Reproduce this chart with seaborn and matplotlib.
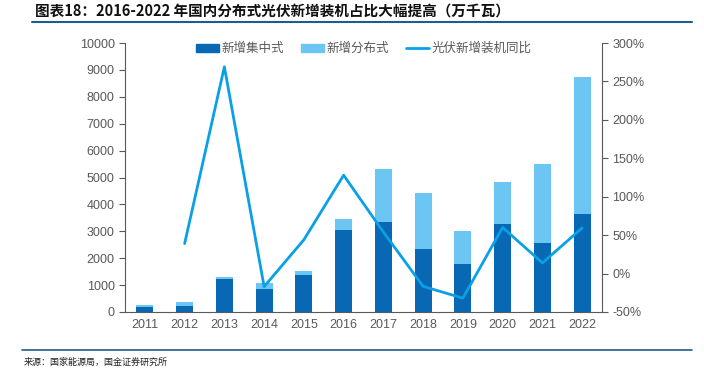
import numpy as np
import pandas as pd
import matplotlib
matplotlib.use("Agg")
import matplotlib.pyplot as plt
import seaborn as sns
from matplotlib.patches import Patch
from matplotlib.lines import Line2D

years = ["2011", "2012", "2013", "2014", "2015", "2016", "2017", "2018", "2019", "2020", "2021", "2022"]
central = [190, 235, 1212, 855, 1374, 3031, 3362, 2330, 1791, 3268, 2560, 3629]
distributed = [70, 125, 80, 205, 139, 424, 1944, 2096, 1220, 1552, 2928, 5111]
yoy = [np.nan, 39, 269, -17, 44, 128, 54, -16.6, -32, 60, 13.9, 59.3]

label_central = "新增集中式"
label_dist = "新增分布式"
label_line = "光伏新增装机同比"
title = "图表18：2016-2022 年国内分布式光伏新增装机占比大幅提高（万千瓦）"
source = "来源：国家能源局，国金证券研究所"

c_dark = "#0868B4"
c_light = "#6CC6F4"
c_line = "#0AA0E6"
gray = "#595959"

sns.set_theme(style="white")
plt.rcParams["font.family"] = ["Liberation Sans", "Noto Sans CJK SC", "DejaVu Sans"]

df = pd.DataFrame({"year": years, "central": central, "dist": distributed, "yoy": yoy})
df["total"] = df["central"] + df["dist"]

fig = plt.figure(figsize=(7.04, 3.70), dpi=100)
ax = fig.add_axes([125/704, 1-312/370, (602-125)/704, (312-43)/370])

sns.barplot(data=df, x="year", y="total", color=c_light, width=0.43, ax=ax, saturation=1, linewidth=0)
sns.barplot(data=df, x="year", y="central", color=c_dark, width=0.43, ax=ax, saturation=1, linewidth=0)
ax.set_xlim(-0.5, 11.5)
ax.set_ylim(0, 10000)
ax.set_yticks(np.arange(0, 10001, 1000))
ax.set_xlabel("")
ax.set_ylabel("")
ax.set_xticks(np.arange(-0.5, 12, 1), minor=False)
ax.set_xticklabels([])
ax.set_xticks(np.arange(12), minor=True)
ax.set_xticklabels(years, minor=True)
ax.tick_params(axis="x", which="major", direction="out", length=4, color=gray, width=0.8)
ax.tick_params(axis="x", which="minor", length=0, labelsize=9, labelcolor=gray, pad=5)
ax.tick_params(axis="y", direction="out", length=4, color=gray, width=0.8, labelsize=9, labelcolor=gray)
for s in ["top", "right"]:
    ax.spines[s].set_visible(False)
for s in ["left", "bottom"]:
    ax.spines[s].set_color(gray)
    ax.spines[s].set_linewidth(0.8)

ax2 = ax.twinx()
sns.lineplot(x=np.arange(12), y=df["yoy"], color=c_line, linewidth=2, ax=ax2)
ax2.set_ylim(-50, 300)
ax2.set_yticks(np.arange(-50, 301, 50))
ax2.set_yticklabels([f"{v}%" for v in range(-50, 301, 50)])
ax2.set_ylabel("")
ax2.tick_params(axis="y", direction="out", length=4, color=gray, width=0.8, labelsize=9, labelcolor=gray)
for s in ["top", "left", "bottom"]:
    ax2.spines[s].set_visible(False)
ax2.spines["right"].set_color(gray)
ax2.spines["right"].set_linewidth(0.8)
ax2.set_xlim(-0.5, 11.5)

handles = [Patch(color=c_dark, label=label_central),
           Patch(color=c_light, label=label_dist),
           Line2D([0], [0], color=c_line, lw=2, label=label_line)]
leg = ax.legend(handles=handles, loc="upper center", bbox_to_anchor=(0.5, 1.045), ncol=3, frameon=False,
                handlelength=1.9, handleheight=0.6, columnspacing=1.35, handletextpad=0.15,
                prop={"family": ["Noto Sans CJK SC"], "size": 9})
for t in leg.get_texts():
    t.set_color(gray)

fig.text(35/704, 1-11/370, title, ha="left", va="center", fontsize=10.5, fontweight="bold",
         family=["Noto Sans CJK SC", "DejaVu Sans"], style="italic", color="#111111")
fig.add_artist(Line2D([32/704, 692/704], [1-22/370, 1-22/370], color="#1F5C8A", lw=1.5))
fig.add_artist(Line2D([22/704, 692/704], [1-350/370, 1-350/370], color="#1F5C8A", lw=1.2))
fig.text(24/704, 1-362/370, source, ha="left", va="center", fontsize=6.5,
         family=["Noto Sans CJK SC", "DejaVu Sans"], color="#222222")

fig.savefig("out.png", dpi=100)
